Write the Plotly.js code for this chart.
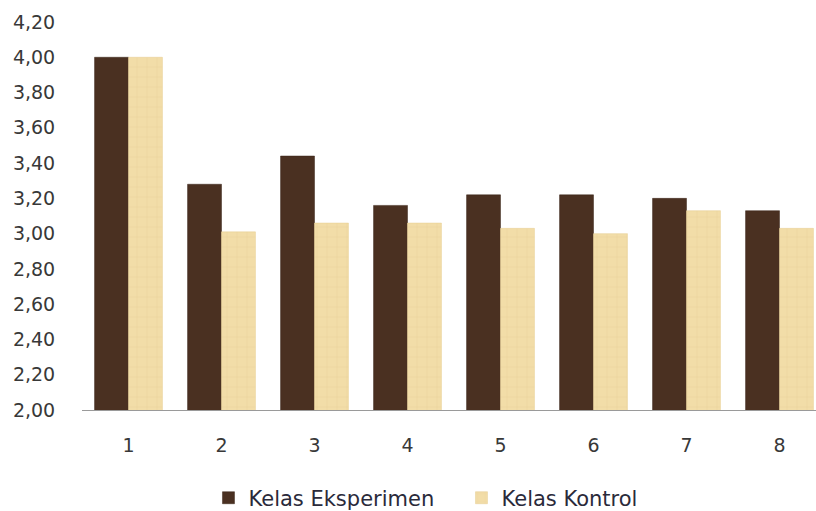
<!DOCTYPE html>
<html>
<head>
<meta charset="utf-8">
<script src="https://cdn.plot.ly/plotly-3.0.1.min.js"></script>
<style>
html,body{margin:0;padding:0;overflow:hidden;background:#fff;}
#chart{width:830px;height:511px;}
</style>
</head>
<body>
<div id="chart"></div>
<script>
const categories = ['1','2','3','4','5','6','7','8'];
const kelasEksperimen = [4.00, 3.28, 3.44, 3.16, 3.22, 3.22, 3.20, 3.13];
const kelasKontrol = [4.00, 3.01, 3.06, 3.06, 3.03, 3.00, 3.13, 3.03];
const seriesNames = ['Kelas Eksperimen', 'Kelas Kontrol'];

const traces = [
  {
    type: 'bar', name: seriesNames[0], x: categories, y: kelasEksperimen,
    marker: {color: '#4a3021', line: {color: '#3a2418', width: 0.5}}
  },
  {
    type: 'bar', name: seriesNames[1], x: categories, y: kelasKontrol,
    marker: {color: '#f0d9a2', line: {color: '#e6cc90', width: 0.5},
      pattern: {shape: '+', fgcolor: '#e9d197', bgcolor: '#f2dda8', size: 10, solidity: 0.08}}
  }
];

const layout = {
  width: 830, height: 511,
  margin: {l: 82, r: 4, t: 22, b: 101, autoexpand: false},
  paper_bgcolor: '#ffffff', plot_bgcolor: '#ffffff',
  separators: ',.',
  font: {family: 'DejaVu Sans, sans-serif', size: 19, color: '#383838'},
  barmode: 'group', bargap: 0.27, bargroupgap: 0,
  showlegend: true,
  legend: {orientation: 'h', x: 0.17, xanchor: 'left', y: -0.227, yanchor: 'middle',
    font: {size: 21, color: '#2a2a3a'}, itemwidth: 30, traceorder: 'normal',
    entrywidth: 208, entrywidthmode: 'pixels'},
  xaxis: {
    type: 'category', showgrid: false, zeroline: false, automargin: false,
    showline: true, linecolor: '#9a9a9a', linewidth: 1,
    ticks: 'outside', ticklen: 18, tickcolor: 'rgba(0,0,0,0)',
    tickfont: {size: 19, color: '#383838'}
  },
  yaxis: {
    range: [2.0, 4.2], dtick: 0.2, tick0: 2.0, tickformat: '.2f', automargin: false,
    showgrid: false, zeroline: false, showline: false,
    ticks: 'outside', ticklen: 22, tickcolor: 'rgba(0,0,0,0)',
    tickfont: {size: 19, color: '#383838'}
  }
};

Plotly.newPlot('chart', traces, layout, {displayModeBar: false, staticPlot: true});
</script>
</body>
</html>
